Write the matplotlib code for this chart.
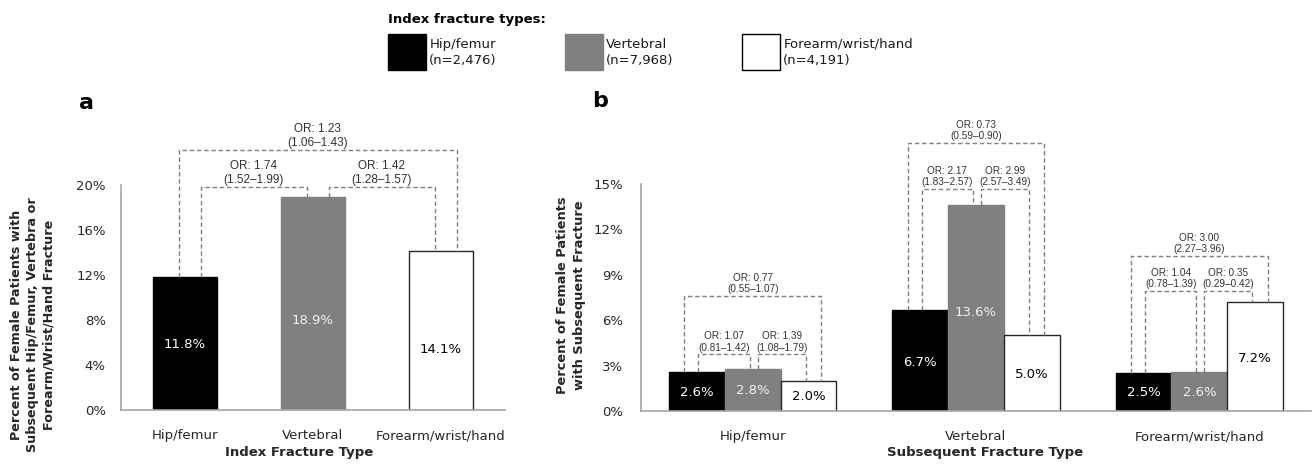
import numpy as np
import matplotlib.pyplot as plt
from matplotlib.patches import Rectangle

# ---- data ----
fracture_types = ['Hip/femur', 'Vertebral', 'Forearm/wrist/hand']
index_n = ['2,476', '7,968', '4,191']

# panel a: any subsequent fracture, by index fracture type (%)
pct_any = [11.8, 18.9, 14.1]
or_a_pairs = [(0, 1), (1, 2), (0, 2)]
or_a_text = ['OR: 1.74\n(1.52\u20131.99)', 'OR: 1.42\n(1.28\u20131.57)', 'OR: 1.23\n(1.06\u20131.43)']

# panel b: subsequent fracture type (rows) x index fracture type (cols) (%)
pct_hip = [2.6, 2.8, 2.0]
pct_vert = [6.7, 13.6, 5.0]
pct_fwh = [2.5, 2.6, 7.2]
or_hip = ['OR: 1.07\n(0.81\u20131.42)', 'OR: 1.39\n(1.08\u20131.79)', 'OR: 0.77\n(0.55\u20131.07)']
or_vert = ['OR: 2.17\n(1.83\u20132.57)', 'OR: 2.99\n(2.57\u20133.49)', 'OR: 0.73\n(0.59\u20130.90)']
or_fwh = ['OR: 1.04\n(0.78\u20131.39)', 'OR: 0.35\n(0.29\u20130.42)', 'OR: 3.00\n(2.27\u20133.96)']
or_b_pairs = [(0, 1), (1, 2), (0, 2)]

# ---- layout / style ----
bar_colors = ['#000000', '#808080', '#ffffff']
edge_colors = ['#000000', '#808080', '#262626']
text_colors = ['white', '#f2f2f2', 'black']
dash_col = '#808080'
spine_col = '#a6a6a6'
W, H = 1312, 465

# bracket levels (in % units) for each pair
levels_a = [19.8, 19.8, 23.1]
levels_b = [[3.75, 3.75, 7.6], [14.67, 14.67, 17.7], [7.93, 7.93, 10.24]]
# connector offsets from bar centre (left leg, right leg) in data units
conn_a = [(-0.05, 0.125)] * 3
conn_b = [(-0.056, 0.007), (-0.013, 0.022), (-0.013, 0.056)]
label_frac_a = [0.49, 0.42, 0.38]
label_frac_b = 0.48

plt.rcParams['font.family'] = 'DejaVu Sans'
fig = plt.figure(figsize=(W / 100, H / 100), dpi=100)


def px_axes(l, t, r, b):
    return fig.add_axes([l / W, 1 - b / H, (r - l) / W, (b - t) / H])


def style_axes(ax, ymax, step, pad_y):
    ax.set_xlim(-0.5, 2.5)
    ax.set_ylim(0, ymax)
    ax.set_yticks(np.arange(0, ymax + 0.01, step))
    ax.set_yticklabels(['%d%%' % v for v in np.arange(0, ymax + 0.01, step)])
    ax.set_xticks(range(3))
    ax.set_xticklabels(fracture_types)
    for s in ['top', 'right']:
        ax.spines[s].set_visible(False)
    for s in ['left', 'bottom']:
        ax.spines[s].set_color(spine_col)
        ax.spines[s].set_linewidth(1.2)
    ax.tick_params(axis='both', length=0, labelsize=9.5, colors='#262626')
    ax.tick_params(axis='x', pad=14)
    ax.tick_params(axis='y', pad=pad_y)


def bracket(ax, x1, x2, y1, y2, level, text, fs, off):
    ax.plot([x1, x1, x2, x2], [y1, level, level, y2], ls=(0, (3.2, 2)),
            color=dash_col, lw=1, clip_on=False)
    ax.annotate(text, ((x1 + x2) / 2, level), xytext=(0, off),
                textcoords='offset points', ha='center', va='bottom',
                fontsize=fs, family='Liberation Sans', color='#333333',
                linespacing=1.2, annotation_clip=False)


# ---- panel a ----
axa = px_axes(121, 185, 505, 410)
style_axes(axa, 20, 4, 11)
xa = np.arange(3)
axa.bar(xa, pct_any, width=0.5, color=bar_colors, edgecolor=edge_colors, linewidth=1.0)
for i, v in enumerate(pct_any):
    axa.text(xa[i], v * label_frac_a[i], '%.1f%%' % v, ha='center', va='center',
             fontsize=9.5, color=text_colors[i])
for k, (i, j) in enumerate(or_a_pairs):
    if k == 2:
        x1, x2 = xa[i] + conn_a[i][0], xa[j] + conn_a[j][1]
    else:
        x1, x2 = xa[i] + conn_a[i][1], xa[j] + conn_a[j][0]
    bracket(axa, x1, x2, pct_any[i], pct_any[j], levels_a[k], or_a_text[k], 8.5, 1.0)
axa.set_xlabel('Index Fracture Type', fontweight='bold', fontsize=9.5, color='#262626', va='top')
axa.xaxis.set_label_coords(0.464, -0.16)
fig.text(33 / W, 1 - 325 / H,
         'Percent of Female Patients with\nSubsequent Hip/Femur, Vertebra or\nForearm/Wrist/Hand Fracture',
         rotation=90, ha='center', va='center', fontweight='bold', fontsize=9.2,
         color='#262626', linespacing=1.35)
fig.text(86 / W, 1 - 103 / H, 'a', ha='center', va='center', fontweight='bold', fontsize=16)

# ---- panel b ----
axb = px_axes(641, 184, 1311, 411)
style_axes(axb, 15, 3, 13)
groups = [pct_hip, pct_vert, pct_fwh]
or_b = [or_hip, or_vert, or_fwh]
bw = 0.25
for g, vals in enumerate(groups):
    xs = g + (np.arange(3) - 1) * bw
    axb.bar(xs, vals, width=bw, color=bar_colors, edgecolor=edge_colors, linewidth=1.0)
    for i, v in enumerate(vals):
        axb.text(xs[i], v * label_frac_b, '%.1f%%' % v, ha='center', va='center',
                 fontsize=9.5, color=text_colors[i])
    for k, (i, j) in enumerate(or_b_pairs):
        if k == 2:
            x1, x2 = xs[i] + conn_b[i][0], xs[j] + conn_b[j][1]
        else:
            x1, x2 = xs[i] + conn_b[i][1], xs[j] + conn_b[j][0]
        bracket(axb, x1, x2, vals[i], vals[j], levels_b[g][k], or_b[g][k], 7.2, 1.2)
axb.set_xlabel('Subsequent Fracture Type', fontweight='bold', fontsize=9.5, color='#262626', va='top')
axb.xaxis.set_label_coords(0.513, -0.154)
fig.text(571 / W, 1 - 295 / H, 'Percent of Female Patients\nwith Subsequent Fracture',
         rotation=90, ha='center', va='center', fontweight='bold', fontsize=9.4,
         color='#262626', linespacing=1.3)
fig.text(600 / W, 1 - 101 / H, 'b', ha='center', va='center', fontweight='bold', fontsize=16)

# ---- legend (index fracture types) ----
fig.text(388 / W, 1 - 20 / H, 'Index fracture types:', ha='left', va='center',
         fontweight='bold', fontsize=9.5, color='#000000')
for i, name in enumerate(fracture_types):
    left = 388.3 + 177 * i
    fig.patches.append(Rectangle((left / W, 1 - 70 / H), 37.4 / W, 35.7 / H,
                                 transform=fig.transFigure, facecolor=bar_colors[i],
                                 edgecolor='#000000' if i != 1 else '#808080', lw=1.0))
    fig.text((left + 41) / W, 1 - 52.5 / H, '%s\n(n=%s)' % (name, index_n[i]),
             ha='left', va='center', fontsize=9.5, color='#1a1a1a', linespacing=1.35)

fig.savefig('out.png', dpi=100)
